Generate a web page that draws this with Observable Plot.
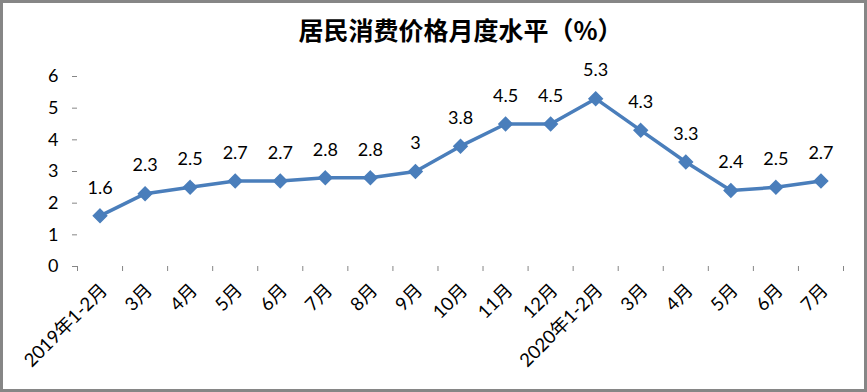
<!DOCTYPE html>
<html><head><meta charset="utf-8">
<script src="https://cdn.jsdelivr.net/npm/d3@7"></script>
<script src="https://cdn.jsdelivr.net/npm/@observablehq/plot@0.6"></script>
<style>body{margin:0;background:#fff}</style>
</head><body><div id="chart"></div>
<script>
const months = ["2019年1-2月","3月","4月","5月","6月","7月","8月","9月","10月","11月","12月","2020年1-2月","3月","4月","5月","6月","7月"];
const values = [1.6,2.3,2.5,2.7,2.7,2.8,2.8,3,3.8,4.5,4.5,5.3,4.3,3.3,2.4,2.5,2.7];
const yTicks = [0,1,2,3,4,5,6];
const title = "居民消费价格月度水平（%）";

const data = months.map((m, i) => ({i, month: m, value: values[i]}));
const idx = d3.range(months.length);
const bounds = d3.range(months.length + 1).map(k => k - 0.5);
const blue = "#4a7ebb";
const axisGray = "#868686";

const plot = Plot.plot({
  width: 867, height: 392,
  marginLeft: 77, marginRight: 24, marginTop: 76, marginBottom: 126,
  style: {fontFamily: "Lato, 'Noto Sans CJK SC', sans-serif", fontSize: "17px", color: "#000", background: "#fff", overflow: "visible"},
  x: {type: "linear", domain: [-0.5, months.length - 0.5]},
  y: {domain: [0, 6]},
  marks: [
    Plot.axisY({ticks: yTicks, tickFormat: d => String(d), tickSize: 5, tickPadding: 14, stroke: axisGray, fill: "#000", label: null, line: true, fontSize: 18}),
    Plot.axisX({ticks: bounds, tickSize: 5, tickFormat: () => "", stroke: axisGray, label: null, line: true}),
    Plot.axisX({ticks: idx, tickSize: 0, tickFormat: i => months[i], tickRotate: -45, textAnchor: "end", lineAnchor: "middle", dx: 4, dy: 9, label: null, fill: "#000", fontSize: 18.5}),
    Plot.line(data, {x: "i", y: "value", stroke: blue, strokeWidth: 3.5}),
    Plot.dot(data, {x: "i", y: "value", symbol: "diamond2", r: 6, fill: blue, stroke: blue}),
    Plot.text(data, {x: "i", y: "value", text: d => String(d.value), dy: -28, fill: "#000", fontSize: 18}),
    Plot.text([title], {text: d => d, frameAnchor: "top", dy: -54, fontSize: 25, fontWeight: 600, fill: "#000", fontFamily: "'Noto Sans CJK SC', sans-serif"})
  ]
});
d3.select(plot).append("rect")
  .attr("x", 1.5).attr("y", 1.5).attr("width", 864).attr("height", 389)
  .attr("fill", "none").attr("stroke", axisGray).attr("stroke-width", 3);
document.getElementById("chart").append(plot);
</script>
</body></html>
